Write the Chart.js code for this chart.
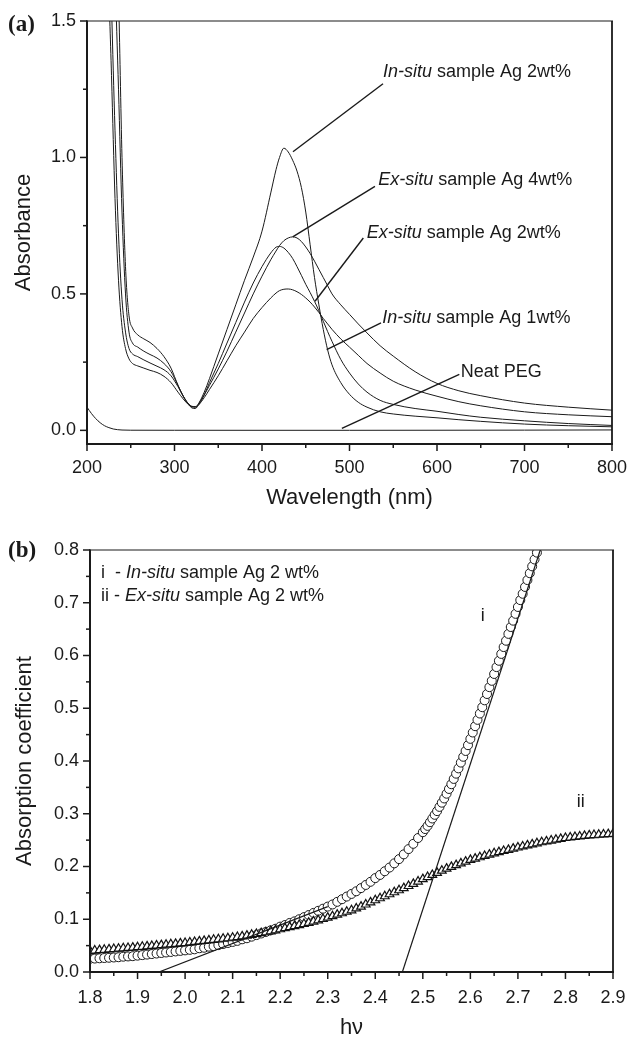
<!DOCTYPE html>
<html><head><meta charset="utf-8">
<script src="https://cdn.jsdelivr.net/npm/chart.js@4.4.1/dist/chart.umd.min.js"></script>
<style>
html,body{margin:0;padding:0;background:#fff;overflow:hidden;}
#chartA{position:absolute;left:0;top:0;}
#chartB{position:absolute;left:0;top:540px;}
</style></head><body>
<canvas id="chartA" width="630" height="540"></canvas>
<canvas id="chartB" width="630" height="497"></canvas>
<script>
// ---------------- Panel (a) data ----------------
const wavelength = [215,220,224,228,232,236,240,244,248,252,258,265,272,280,288,296,304,310,316,320,324,328,334,340,350,360,370,380,390,400,410,416,420,425,430,435,440,445,450,455,460,465,470,475,480,490,500,510,520,535,550,575,600,625,650,700,750,800];
const inSitu2 = [6.0,4.0,3.0,2.2,1.68,1.25,0.8,0.5,0.36,0.32,0.305,0.29,0.278,0.265,0.245,0.215,0.165,0.125,0.095,0.082,0.08,0.10,0.14,0.19,0.28,0.37,0.46,0.55,0.635,0.73,0.87,0.955,1.0,1.034,1.02,0.99,0.95,0.89,0.80,0.68,0.56,0.46,0.37,0.295,0.24,0.175,0.132,0.103,0.085,0.068,0.06,0.052,0.046,0.039,0.033,0.023,0.017,0.013];
const exSitu4 = [6.0,4.5,3.4,2.6,2.0,1.6,1.0,0.6,0.42,0.375,0.35,0.335,0.322,0.30,0.27,0.228,0.165,0.125,0.097,0.088,0.087,0.10,0.13,0.165,0.225,0.29,0.36,0.43,0.50,0.565,0.625,0.657,0.677,0.695,0.705,0.709,0.705,0.692,0.672,0.648,0.62,0.59,0.56,0.53,0.50,0.46,0.425,0.39,0.357,0.31,0.272,0.215,0.172,0.145,0.127,0.10,0.085,0.074];
const exSitu2 = [5.0,2.5,1.75,1.3,0.85,0.55,0.38,0.30,0.262,0.245,0.236,0.228,0.22,0.212,0.198,0.175,0.14,0.115,0.094,0.086,0.085,0.095,0.13,0.175,0.245,0.32,0.395,0.47,0.54,0.60,0.65,0.671,0.674,0.668,0.652,0.63,0.60,0.568,0.535,0.505,0.473,0.438,0.40,0.362,0.326,0.26,0.21,0.17,0.14,0.11,0.095,0.08,0.07,0.058,0.048,0.035,0.025,0.018];
const inSitu1 = [5.0,2.9,2.1,1.56,1.1,0.72,0.48,0.36,0.30,0.28,0.27,0.258,0.247,0.235,0.222,0.20,0.16,0.125,0.097,0.087,0.086,0.095,0.12,0.15,0.20,0.255,0.31,0.36,0.41,0.45,0.485,0.503,0.512,0.517,0.518,0.515,0.508,0.498,0.485,0.47,0.452,0.432,0.41,0.39,0.37,0.335,0.305,0.275,0.245,0.21,0.18,0.148,0.125,0.105,0.09,0.068,0.057,0.05];
const pegWavelength = [200,205,210,215,220,225,230,235,240,250,300,400,500,600,700,800];
const neatPEG = [0.085,0.062,0.043,0.028,0.017,0.010,0.005,0.0025,0.0012,0.0005,0.0003,0.0002,0.0002,0.0004,0.0008,0.0015];
const wavelengthTicks = [200,300,400,500,600,700,800];
const wavelengthMinor = [250,350,450,550,650,750];
const absorbanceTicks = [0,0.5,1.0,1.5];
const absorbanceMinor = [0.25,0.75,1.25];

// ---------------- Panel (b) data ----------------
const energyI = [1.80,1.81,1.82,1.83,1.84,1.85,1.86,1.87,1.88,1.89,1.90,1.91,1.92,1.93,1.94,1.95,1.96,1.97,1.98,1.99,2.00,2.01,2.02,2.03,2.04,2.05,2.06,2.07,2.08,2.09,2.10,2.11,2.12,2.13,2.14,2.15,2.16,2.17,2.18,2.19,2.20,2.21,2.22,2.23,2.24,2.25,2.26,2.27,2.28,2.29,2.30,2.31,2.32,2.33,2.34,2.35,2.36,2.37,2.38,2.39,2.40,2.41,2.42,2.43,2.44,2.45,2.46,2.47,2.48,2.49,2.50,2.505,2.51,2.515,2.52,2.525,2.53,2.535,2.54,2.545,2.55,2.555,2.56,2.565,2.57,2.575,2.58,2.585,2.59,2.595,2.60,2.605,2.61,2.615,2.62,2.625,2.63,2.635,2.64,2.645,2.65,2.655,2.66,2.665,2.67,2.675,2.68,2.685,2.69,2.695,2.70,2.705,2.71,2.715,2.72,2.725,2.73,2.735,2.74];
const coeffI = [0.025,0.0255,0.026,0.0265,0.027,0.0275,0.028,0.029,0.0295,0.030,0.031,0.032,0.033,0.034,0.035,0.036,0.037,0.038,0.039,0.040,0.041,0.042,0.043,0.045,0.046,0.048,0.049,0.051,0.053,0.055,0.057,0.059,0.062,0.064,0.067,0.070,0.073,0.076,0.079,0.082,0.086,0.089,0.093,0.096,0.100,0.104,0.108,0.112,0.116,0.120,0.124,0.128,0.133,0.138,0.143,0.148,0.153,0.159,0.165,0.171,0.178,0.184,0.191,0.198,0.206,0.214,0.223,0.233,0.243,0.254,0.265,0.271,0.277,0.284,0.291,0.298,0.305,0.313,0.321,0.329,0.338,0.347,0.356,0.366,0.376,0.386,0.397,0.408,0.419,0.430,0.442,0.454,0.466,0.478,0.490,0.502,0.515,0.527,0.540,0.552,0.565,0.578,0.590,0.603,0.616,0.628,0.641,0.654,0.666,0.679,0.692,0.705,0.717,0.730,0.743,0.756,0.769,0.782,0.795];
const energyII = [1.80,1.81,1.82,1.83,1.84,1.85,1.86,1.87,1.88,1.89,1.90,1.91,1.92,1.93,1.94,1.95,1.96,1.97,1.98,1.99,2.00,2.01,2.02,2.03,2.04,2.05,2.06,2.07,2.08,2.09,2.10,2.11,2.12,2.13,2.14,2.15,2.16,2.17,2.18,2.19,2.20,2.21,2.22,2.23,2.24,2.25,2.26,2.27,2.28,2.29,2.30,2.31,2.32,2.33,2.34,2.35,2.36,2.37,2.38,2.39,2.40,2.41,2.42,2.43,2.44,2.45,2.46,2.47,2.48,2.49,2.50,2.51,2.52,2.53,2.54,2.55,2.56,2.57,2.58,2.59,2.60,2.61,2.62,2.63,2.64,2.65,2.66,2.67,2.68,2.69,2.70,2.71,2.72,2.73,2.74,2.75,2.76,2.77,2.78,2.79,2.80,2.81,2.82,2.83,2.84,2.85,2.86,2.87,2.88,2.89,2.90];
const coeffII = [0.040,0.0407,0.0414,0.0421,0.0428,0.0435,0.0442,0.0449,0.0456,0.0463,0.047,0.0478,0.0486,0.0494,0.0502,0.051,0.0518,0.0526,0.0534,0.0542,0.055,0.056,0.057,0.058,0.059,0.060,0.061,0.062,0.063,0.064,0.065,0.0663,0.0676,0.069,0.0705,0.072,0.0737,0.0754,0.0772,0.079,0.081,0.083,0.085,0.087,0.089,0.091,0.0933,0.0956,0.098,0.1005,0.103,0.1058,0.1086,0.1114,0.1142,0.117,0.1205,0.124,0.128,0.132,0.136,0.1398,0.1436,0.1474,0.1512,0.155,0.159,0.163,0.167,0.1715,0.176,0.180,0.184,0.188,0.192,0.196,0.1993,0.2026,0.2059,0.2092,0.2125,0.215,0.2175,0.220,0.2225,0.225,0.2272,0.2294,0.2316,0.2338,0.236,0.238,0.240,0.242,0.244,0.246,0.2476,0.2492,0.2508,0.2524,0.254,0.255,0.256,0.257,0.258,0.259,0.2596,0.2602,0.2608,0.2614,0.262];
const tangentLowE = [1.945, 2.30];
const tangentLowA = [0, 0.124];
const tangentHighE = [2.457, 2.747];
const tangentHighA = [0, 0.8];
const energyTicks = [1.8,1.9,2.0,2.1,2.2,2.3,2.4,2.5,2.6,2.7,2.8,2.9];
const energyMinor = [1.85,1.95,2.05,2.15,2.25,2.35,2.45,2.55,2.65,2.75,2.85];
const coeffTicks = [0,0.1,0.2,0.3,0.4,0.5,0.6,0.7,0.8];
const coeffMinor = [0.05,0.15,0.25,0.35,0.45,0.55,0.65,0.75];

// ---------------- helpers ----------------
const FONT = '"Liberation Sans", Arial, Helvetica, sans-serif';
const INK = '#1a1a1a';
Chart.defaults.font.family = FONT;
Chart.defaults.color = INK;
const pts = (xs, ys) => xs.map((x, i) => ({x, y: ys[i]}));
const setTicks = vals => scale => { scale.ticks = vals.map(v => ({value: v})); };
const fitBox = (prop, size) => s => {
  s[prop] = size;
  s.paddingTop = 0; s.paddingBottom = 0; s.paddingLeft = 0; s.paddingRight = 0;
};

const axisFrame = {
  id: 'axisFrame',
  afterDraw(chart, args, o) {
    const {ctx, chartArea: a} = chart;
    const xs = chart.scales.x, ys = chart.scales.y;
    ctx.save();
    ctx.strokeStyle = INK;
    const seg = (x1, y1, x2, y2, w) => { ctx.lineWidth = w; ctx.beginPath(); ctx.moveTo(x1, y1); ctx.lineTo(x2, y2); ctx.stroke(); };
    seg(a.left - 1, a.top, a.right + 1, a.top, o.topWidth);
    seg(a.right, a.top, a.right, a.bottom, o.rightWidth);
    seg(a.left, a.top - 0.5, a.left, a.bottom + 1, o.axisWidth);
    seg(a.left - 1, a.bottom, a.right + 1, a.bottom, o.axisWidth);
    o.xMajor.forEach(v => { const p = xs.getPixelForValue(v); seg(p, a.bottom, p, a.bottom + o.major, o.tickWidth); });
    o.xMinor.forEach(v => { const p = xs.getPixelForValue(v); seg(p, a.bottom, p, a.bottom + o.minor, o.tickWidth); });
    o.yMajor.forEach(v => { const p = ys.getPixelForValue(v); seg(a.left - o.major, p, a.left, p, o.tickWidth); });
    o.yMinor.forEach(v => { const p = ys.getPixelForValue(v); seg(a.left - o.minor, p, a.left, p, o.tickWidth); });
    ctx.restore();
  }
};

const annot = {
  id: 'annot',
  afterDraw(chart, args, o) {
    const {ctx} = chart;
    const xs = chart.scales.x, ys = chart.scales.y;
    ctx.save();
    ctx.fillStyle = INK;
    ctx.textBaseline = 'middle';
    ctx.textAlign = 'left';
    (o.items || []).forEach(it => {
      let x = xs.getPixelForValue(it.x);
      const y = ys.getPixelForValue(it.y);
      it.parts.forEach(p => {
        ctx.font = (p.italic ? 'italic ' : '') + o.size + 'px ' + FONT;
        ctx.fillText(p.t, x, y);
        x += ctx.measureText(p.t).width;
      });
    });
    if (o.panel) {
      ctx.font = 'bold 23px "Liberation Serif", "Times New Roman", serif';
      ctx.fillText(o.panel.text, o.panel.x, o.panel.y);
    }
    ctx.restore();
  }
};

const curve = (xs, ys) => ({
  data: pts(xs, ys), borderColor: INK, borderWidth: 1, pointRadius: 0,
  cubicInterpolationMode: 'monotone', fill: false, order: 2
});
const leader = (xs, ys) => ({
  data: pts(xs, ys), borderColor: INK, borderWidth: 1.4, pointRadius: 0, fill: false, order: 1
});

// leader lines (annotation positions, data units)
const leadIn2X = [435.4, 538.3], leadIn2Y = [1.021, 1.270];
const leadEx4X = [435.1, 529.1], leadEx4Y = [0.709, 0.894];
const leadEx2X = [460.6, 515.8], leadEx2Y = [0.473, 0.705];
const leadIn1X = [473.9, 536.0], leadIn1Y = [0.296, 0.394];
const leadPegX = [491.3, 625.5], leadPegY = [0.007, 0.205];

const tickFont = {size: 18};

new Chart(document.getElementById('chartA'), {
  type: 'line',
  data: { datasets: [
    curve(wavelength, inSitu2),
    curve(wavelength, exSitu4),
    curve(wavelength, exSitu2),
    curve(wavelength, inSitu1),
    curve(pegWavelength, neatPEG),
    leader(leadIn2X, leadIn2Y), leader(leadEx4X, leadEx4Y), leader(leadEx2X, leadEx2Y),
    leader(leadIn1X, leadIn1Y), leader(leadPegX, leadPegY)
  ]},
  options: {
    responsive: false, animation: false, events: [],
    layout: {padding: {top: 21, right: 18, left: 0, bottom: 0}},
    plugins: {
      legend: {display: false}, tooltip: {enabled: false},
      axisFrame: {xMajor: wavelengthTicks, xMinor: wavelengthMinor, yMajor: absorbanceTicks, yMinor: absorbanceMinor,
                  major: 7, minor: 4, tickWidth: 1.5, axisWidth: 2, topWidth: 1.2, rightWidth: 1.8},
      annot: {size: 18, panel: {text: '(a)', x: 8, y: 25}, items: [
        {x: 538.3, y: 1.314, parts: [{t: 'In-situ', italic: true}, {t: ' sample Ag 2wt%'}]},
        {x: 532.9, y: 0.916, parts: [{t: 'Ex-situ', italic: true}, {t: ' sample Ag 4wt%'}]},
        {x: 519.7, y: 0.723, parts: [{t: 'Ex-situ', italic: true}, {t: ' sample Ag 2wt%'}]},
        {x: 537.5, y: 0.410, parts: [{t: 'In-situ', italic: true}, {t: ' sample Ag 1wt%'}]},
        {x: 627.1, y: 0.213, parts: [{t: 'Neat PEG'}]}
      ]}
    },
    scales: {
      x: {type: 'linear', min: 200, max: 800,
          afterBuildTicks: setTicks(wavelengthTicks), afterFit: fitBox('height', 96),
          grid: {display: false, drawTicks: false}, border: {display: false},
          ticks: {padding: 13, font: tickFont, color: INK, autoSkip: false, maxRotation: 0, callback: v => String(v)},
          title: {display: true, text: 'Wavelength (nm)', color: INK, font: {size: 22, lineHeight: 1}, padding: {top: 0, bottom: 31}}},
      y: {type: 'linear', min: -0.05, max: 1.5,
          afterBuildTicks: setTicks(absorbanceTicks), afterFit: fitBox('width', 87),
          grid: {display: false, drawTicks: false}, border: {display: false},
          ticks: {padding: 11, font: tickFont, color: INK, autoSkip: false, callback: v => v.toFixed(1)},
          title: {display: true, text: 'Absorbance', color: INK, font: {size: 22, lineHeight: 1}, padding: {top: 13, bottom: 0}}}
    }
  },
  plugins: [axisFrame, annot]
});

new Chart(document.getElementById('chartB'), {
  type: 'line',
  data: { datasets: [
    {data: pts(tangentLowE, tangentLowA), borderColor: INK, borderWidth: 1.2, pointRadius: 0, order: 0},
    {data: pts(tangentHighE, tangentHighA), borderColor: INK, borderWidth: 1.2, pointRadius: 0, order: 0},
    {data: pts(energyII, coeffII), showLine: false, pointStyle: 'triangle', pointRadius: 5,
     pointBorderWidth: 1.2, pointBorderColor: '#111', pointBackgroundColor: '#fff', order: 1},
    {data: pts(energyI, coeffI), showLine: false, pointStyle: 'circle', pointRadius: 4.5,
     pointBorderWidth: 1, pointBorderColor: INK, pointBackgroundColor: '#fff', order: 2}
  ]},
  options: {
    responsive: false, animation: false, events: [],
    layout: {padding: {top: 10, right: 17, left: 0, bottom: 0}},
    plugins: {
      legend: {display: false}, tooltip: {enabled: false},
      axisFrame: {xMajor: energyTicks, xMinor: energyMinor, yMajor: coeffTicks, yMinor: coeffMinor,
                  major: 7, minor: 4, tickWidth: 1.5, axisWidth: 2, topWidth: 1.2, rightWidth: 1.8},
      annot: {size: 18, panel: {text: '(b)', x: 8, y: 11}, items: [
        {x: 1.823, y: 0.757, parts: [{t: 'i  - '}, {t: 'In-situ', italic: true}, {t: ' sample Ag 2 wt%'}]},
        {x: 1.823, y: 0.712, parts: [{t: 'ii - '}, {t: 'Ex-situ', italic: true}, {t: ' sample Ag 2 wt%'}]},
        {x: 2.622, y: 0.674, parts: [{t: 'i'}]},
        {x: 2.824, y: 0.323, parts: [{t: 'ii'}]}
      ]}
    },
    scales: {
      x: {type: 'linear', min: 1.8, max: 2.9,
          afterBuildTicks: setTicks(energyTicks), afterFit: fitBox('height', 65),
          grid: {display: false, drawTicks: false}, border: {display: false},
          ticks: {padding: 15, font: tickFont, color: INK, autoSkip: false, maxRotation: 0, callback: v => v.toFixed(1)},
          title: {display: true, text: 'h\u03BD', color: INK, font: {size: 22, lineHeight: 1}, padding: {top: 0, bottom: -2}}},
      y: {type: 'linear', min: 0, max: 0.8,
          afterBuildTicks: setTicks(coeffTicks), afterFit: fitBox('width', 90),
          grid: {display: false, drawTicks: false}, border: {display: false},
          ticks: {padding: 11, font: tickFont, color: INK, autoSkip: false, callback: v => v.toFixed(1)},
          title: {display: true, text: 'Absorption coefficient', color: INK, font: {size: 22, lineHeight: 1}, padding: {top: 14, bottom: 0}}}
    }
  },
  plugins: [axisFrame, annot]
});
</script>
</body></html>
